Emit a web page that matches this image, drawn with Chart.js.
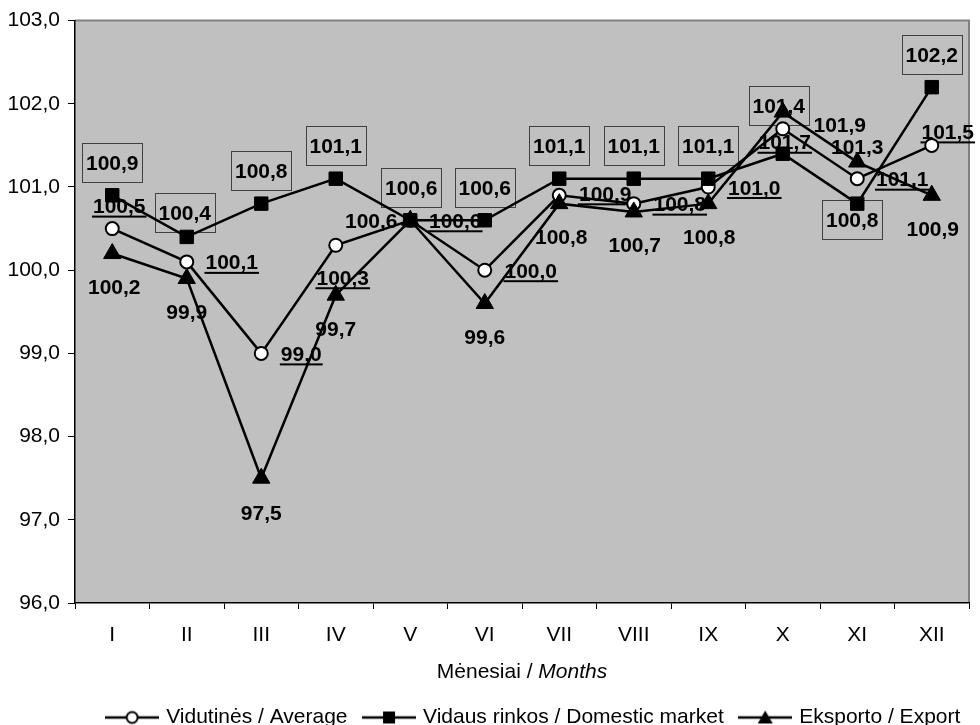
<!DOCTYPE html>
<html>
<head>
<meta charset="utf-8">
<script src="https://cdn.jsdelivr.net/npm/chart.js@4.4.0/dist/chart.umd.min.js"></script>
<style>
html,body{margin:0;padding:0;background:#fff;}
#wrap{width:980px;height:725px;position:relative;}
</style>
</head>
<body>
<div id="wrap"><canvas id="c" width="980" height="725"></canvas></div>
<script>
// ---- data ----
const months = ['I','II','III','IV','V','VI','VII','VIII','IX','X','XI','XII'];
const averageValues  = [100.5, 100.1, 99.0, 100.3, 100.6, 100.0, 100.9, 100.8, 101.0, 101.7, 101.1, 101.5];
const domesticValues = [100.9, 100.4, 100.8, 101.1, 100.6, 100.6, 101.1, 101.1, 101.1, 101.4, 100.8, 102.2];
const exportValues   = [100.2, 99.9, 97.5, 99.7, 100.6, 99.6, 100.8, 100.7, 100.8, 101.9, 101.3, 100.9];
const seriesNames = ['Vidutinės / Average', 'Vidaus rinkos / Domestic market', 'Eksporto / Export'];
const yMin = 96, yMax = 103, yStep = 1;
const axisTitleRegular = 'Mėnesiai / ';
const axisTitleItalic = 'Months';

// ---- label placement (pixel offsets from each point) ----
const avgLabelOffsets = [[7,-23],[45,0],[40,0],[7,32],[45,0],[46,0],[46,-2],[46,0],[46,0],[2,13],[45,0],[16,-14]];
const domLabelOffsets = [[0,-33],[-2,-24],[0,-33],[0,-33],[1,-33],[0,-33],[0,-33],[0,-33],[0,-33],[-4,-48],[-5,16],[0,-33]];
const expLabelOffsets = [[2,33],[0,33],[0,34],[0,33],[-39,0],[0,33],[2,33],[1,33],[1,33],[57,12],[0,-16],[1,33]];

const FONT = '"Liberation Sans", Arial, Helvetica, sans-serif';
Chart.defaults.font.family = FONT;
Chart.defaults.color = '#000';

const fmt = v => v.toFixed(1).replace('.', ',');

function makeIcon(kind) {
  const c = document.createElement('canvas');
  c.width = 54; c.height = 22;
  const g = c.getContext('2d');
  g.strokeStyle = '#000'; g.lineWidth = 2.5;
  g.beginPath(); g.moveTo(0, 11); g.lineTo(54, 11); g.stroke();
  const cx = 27, cy = 11;
  g.fillStyle = '#000';
  if (kind === 'circle') {
    g.beginPath(); g.arc(cx, cy, 5.5, 0, Math.PI * 2);
    g.fillStyle = '#fff'; g.fill(); g.lineWidth = 2; g.stroke();
  } else if (kind === 'rect') {
    g.fillRect(cx - 6, cy - 6, 12, 12);
  } else {
    g.beginPath(); g.moveTo(cx, cy - 7); g.lineTo(cx + 7.5, cy + 6); g.lineTo(cx - 7.5, cy + 6); g.closePath(); g.fill();
  }
  return c;
}
const legendIcons = [makeIcon('circle'), makeIcon('rect'), makeIcon('triangle')];

const labelSpecs = [
  {kind: 'underline', offsets: avgLabelOffsets},
  {kind: 'box', offsets: domLabelOffsets},
  {kind: 'plain', offsets: expLabelOffsets}
];

const plotBackground = {
  id: 'plotBackground',
  beforeDraw(chart) {
    const {ctx, chartArea: a} = chart;
    ctx.save();
    ctx.fillStyle = '#C0C0C0';
    ctx.fillRect(a.left, a.top, a.right - a.left, a.bottom - a.top);
    ctx.strokeStyle = '#808080';
    ctx.lineWidth = 2;
    ctx.beginPath();
    ctx.moveTo(a.left, a.top); ctx.lineTo(a.right, a.top); ctx.lineTo(a.right, a.bottom);
    ctx.stroke();
    ctx.restore();
  }
};

const dataLabels = {
  id: 'dataLabels',
  beforeDatasetsDraw(chart) {
    const ctx = chart.ctx;
    ctx.save();
    ctx.font = 'bold 21px ' + FONT;
    ctx.textAlign = 'center';
    ctx.textBaseline = 'alphabetic';
    ctx.fillStyle = '#000';
    labelSpecs.forEach((spec, di) => {
      const meta = chart.getDatasetMeta(di);
      meta.data.forEach((pt, i) => {
        const [dx, dy] = spec.offsets[i];
        const cx = pt.x + dx, cy = pt.y + dy;
        const txt = fmt(chart.data.datasets[di].data[i]);
        const w = ctx.measureText(txt).width;
        if (spec.kind === 'box') {
          ctx.strokeStyle = '#404040'; ctx.lineWidth = 1;
          ctx.strokeRect(Math.round(cx - 30) + 0.5, Math.round(cy - 19.5) + 0.5, 60, 39);
        }
        ctx.fillText(txt, cx, cy + 7.5);
        if (spec.kind === 'underline') {
          ctx.fillRect(cx - w / 2 - 1, cy + 10, w + 2, 2);
        }
      });
    });
    ctx.restore();
  }
};

const axisTitle = {
  id: 'axisTitle',
  afterDraw(chart) {
    const {ctx, chartArea: a} = chart;
    ctx.save();
    ctx.fillStyle = '#000';
    ctx.textBaseline = 'alphabetic';
    ctx.textAlign = 'left';
    const fr = '21px ' + FONT, fi = 'italic 21px ' + FONT;
    ctx.font = fr; const w1 = ctx.measureText(axisTitleRegular).width;
    ctx.font = fi; const w2 = ctx.measureText(axisTitleItalic).width;
    const cx = (a.left + a.right) / 2;
    const y = a.bottom + 67 + 7.5;
    const x0 = cx - (w1 + w2) / 2;
    ctx.font = fr; ctx.fillText(axisTitleRegular, x0, y);
    ctx.font = fi; ctx.fillText(axisTitleItalic, x0 + w1, y);
    ctx.restore();
  }
};

const legendShift = {
  id: 'legendShift',
  afterLayout(chart) {
    const l = chart.legend;
    if (!l) return;
    l.left += 48; l.right += 48;
    l.top += 13; l.bottom += 13;
  }
};

new Chart(document.getElementById('c'), {
  type: 'line',
  data: {
    labels: months,
    datasets: [
      {
        label: seriesNames[0], data: averageValues, order: 3,
        borderColor: '#000', borderWidth: 2.5, tension: 0, fill: false,
        pointStyle: 'circle', pointRadius: 6.5, pointBorderWidth: 2,
        pointBackgroundColor: '#fff', pointBorderColor: '#000'
      },
      {
        label: seriesNames[1], data: domesticValues, order: 2,
        borderColor: '#000', borderWidth: 2.5, tension: 0, fill: false,
        pointStyle: 'rect', pointRadius: 9.5, pointBorderWidth: 1,
        pointBackgroundColor: '#000', pointBorderColor: '#000'
      },
      {
        label: seriesNames[2], data: exportValues, order: 1,
        borderColor: '#000', borderWidth: 2.5, tension: 0, fill: false,
        pointStyle: 'triangle', pointRadius: 10, pointBorderWidth: 1,
        pointBackgroundColor: '#000', pointBorderColor: '#000'
      }
    ]
  },
  options: {
    responsive: false,
    devicePixelRatio: 1,
    animation: false,
    events: [],
    layout: {padding: {top: 20, right: 7, left: 0, bottom: 0}},
    scales: {
      x: {
        type: 'category',
        offset: true,
        grid: {display: true, drawOnChartArea: false, drawTicks: true, tickLength: 6, tickColor: '#000', tickWidth: 1, offset: true},
        border: {display: true, color: '#000', width: 1.5},
        ticks: {font: {size: 21}, color: '#000', padding: 14, maxRotation: 0, autoSkip: false},
        afterFit(s) { s.height = 73; }
      },
      y: {
        min: yMin, max: yMax,
        grid: {display: true, drawOnChartArea: false, drawTicks: true, tickLength: 7, tickColor: '#000', tickWidth: 1},
        border: {display: true, color: '#000', width: 1.5},
        ticks: {stepSize: yStep, font: {size: 21}, color: '#000', padding: 8, callback: v => fmt(v)},
        afterFit(s) { s.width = 75; }
      }
    },
    plugins: {
      tooltip: {enabled: false},
      title: {display: false},
      legend: {
        display: true,
        position: 'bottom',
        labels: {
          usePointStyle: true,
          pointStyleWidth: 47,
          padding: 18,
          font: {size: 21},
          color: '#000',
          sort: (a, b) => a.datasetIndex - b.datasetIndex,
          generateLabels(chart) {
            const items = Chart.defaults.plugins.legend.labels.generateLabels(chart);
            items.forEach(it => { it.pointStyle = legendIcons[it.datasetIndex]; });
            return items;
          }
        }
      }
    }
  },
  plugins: [plotBackground, dataLabels, axisTitle, legendShift]
});
</script>
</body>
</html>
